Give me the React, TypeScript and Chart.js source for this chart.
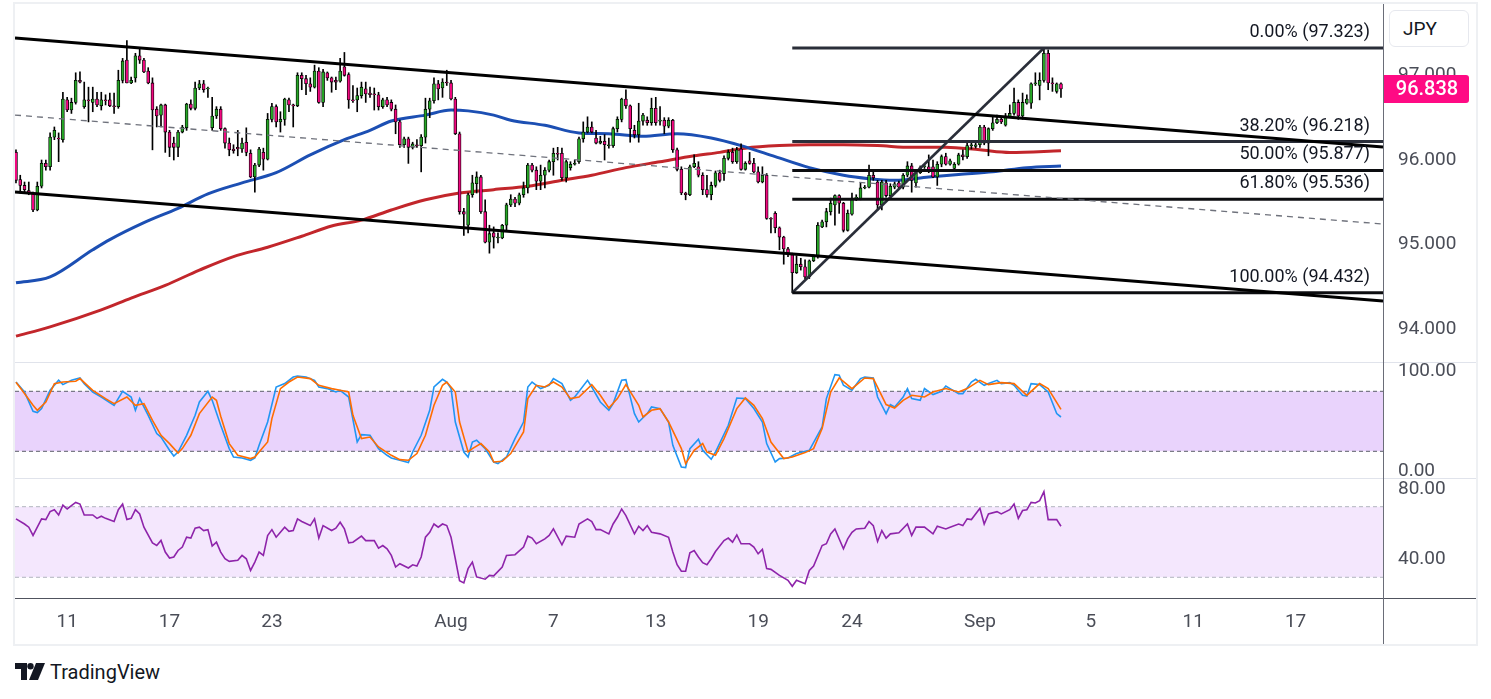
import React, { useEffect, useRef } from "react";
import { Chart, registerables } from "chart.js";

Chart.register(...registerables);
Chart.defaults.font.family = "Roboto, 'DejaVu Sans', sans-serif";

// ---------- price candles (4h bars, index 0 .. 245) ----------
const OPEN = [
  96.09, 95.77, 95.70, 95.64, 95.61, 95.41, 95.69, 95.96, 95.92, 96.27,
  96.26, 96.24, 96.71, 96.59, 96.68, 96.94, 96.63, 96.71, 96.68, 96.72,
  96.64, 96.71, 96.71, 96.64, 96.63, 96.94, 97.18, 96.91, 96.97, 97.23,
  97.18, 97.05, 96.91, 96.60, 96.53, 96.65, 96.33, 96.20, 96.15, 96.33,
  96.38, 96.66, 96.61, 96.85, 96.90, 96.84, 96.38, 96.52, 96.60, 96.37,
  96.20, 96.13, 96.15, 96.13, 96.21, 96.08, 95.80, 95.94, 96.09, 96.01,
  96.48, 96.63, 96.45, 96.48, 96.71, 96.65, 96.64, 97.00, 96.96, 96.90,
  96.86, 97.05, 96.68, 97.03, 96.97, 96.94, 96.93, 97.10, 97.01, 96.71,
  96.71, 96.76, 96.84, 96.79, 96.78, 96.77, 96.63, 96.71, 96.68, 96.60,
  96.45, 96.18, 96.25, 96.15, 96.18, 96.17, 96.27, 96.60, 96.70, 96.90,
  96.85, 96.92, 96.91, 96.72, 96.31, 95.39, 95.23, 95.59, 95.72, 95.80,
  95.39, 95.03, 95.14, 95.08, 95.08, 95.23, 95.47, 95.54, 95.49, 95.59,
  95.67, 95.94, 95.88, 95.75, 95.82, 95.88, 95.98, 96.08, 96.08, 95.79,
  95.91, 95.95, 95.98, 96.25, 96.33, 96.39, 96.26, 96.20, 96.22, 96.17,
  96.17, 96.37, 96.48, 96.72, 96.64, 96.35, 96.30, 96.46, 96.47, 96.44,
  96.61, 96.46, 96.47, 96.40, 96.47, 96.12, 95.89, 95.61, 95.59, 95.92,
  95.92, 95.82, 95.65, 95.59, 95.70, 95.85, 95.84, 96.02, 96.09, 95.98,
  96.13, 95.89, 95.99, 95.96, 95.86, 95.74, 95.82, 95.31, 95.37, 95.20,
  95.09, 94.95, 94.88, 94.67, 94.77, 94.74, 94.62, 94.81, 94.86, 95.21,
  95.27, 95.39, 95.47, 95.58, 95.49, 95.17, 95.36, 95.55, 95.54, 95.67,
  95.68, 95.82, 95.74, 95.47, 95.73, 95.58, 95.68, 95.73, 95.68, 95.82,
  95.93, 95.73, 95.85, 95.92, 95.92, 95.92, 95.80, 95.95, 96.04, 95.95,
  95.90, 95.95, 96.06, 96.04, 96.17, 96.16, 96.18, 96.39, 96.20, 96.37,
  96.44, 96.48, 96.41, 96.51, 96.55, 96.68, 96.52, 96.67, 96.67, 96.90,
  96.88, 96.94, 97.26, 96.91, 96.81, 96.90,
];
const HIGH = [
  96.12, 95.82, 95.74, 95.74, 95.62, 95.74, 96.00, 96.00, 96.32, 96.39,
  96.32, 96.80, 96.74, 96.73, 97.03, 97.04, 96.92, 96.86, 96.86, 96.80,
  96.80, 96.77, 96.79, 96.79, 97.06, 97.20, 97.41, 96.98, 97.26, 97.32,
  97.20, 97.09, 96.97, 96.63, 96.66, 96.66, 96.35, 96.27, 96.35, 96.41,
  96.67, 96.71, 96.92, 96.94, 96.94, 96.86, 96.74, 96.63, 96.63, 96.38,
  96.26, 96.18, 96.35, 96.26, 96.38, 96.12, 95.96, 96.15, 96.14, 96.55,
  96.67, 96.65, 96.57, 96.73, 96.73, 96.66, 97.03, 97.03, 97.00, 96.97,
  97.12, 97.09, 97.07, 97.04, 96.98, 96.98, 97.20, 97.27, 97.03, 96.88,
  96.85, 96.92, 96.92, 96.86, 96.85, 96.80, 96.73, 96.74, 96.71, 96.65,
  96.47, 96.27, 96.27, 96.21, 96.24, 96.30, 96.73, 96.73, 96.97, 96.94,
  96.96, 97.06, 96.94, 96.74, 96.33, 95.43, 95.61, 95.82, 95.86, 95.82,
  95.53, 95.23, 95.21, 95.14, 95.24, 95.49, 95.59, 95.56, 95.61, 95.74,
  95.96, 95.96, 95.92, 95.94, 95.91, 96.00, 96.14, 96.15, 96.14, 96.00,
  95.98, 96.00, 96.27, 96.45, 96.51, 96.45, 96.35, 96.28, 96.30, 96.26,
  96.39, 96.51, 96.73, 96.83, 96.65, 96.41, 96.67, 96.55, 96.51, 96.73,
  96.74, 96.63, 96.50, 96.50, 96.48, 96.14, 95.92, 95.62, 95.94, 96.06,
  95.98, 95.85, 95.82, 95.74, 95.87, 95.88, 96.05, 96.12, 96.14, 96.15,
  96.19, 95.98, 96.09, 96.02, 95.92, 95.92, 95.84, 95.32, 95.39, 95.21,
  95.10, 94.97, 94.90, 94.87, 94.84, 94.82, 94.82, 94.88, 95.26, 95.29,
  95.43, 95.55, 95.59, 95.59, 95.50, 95.41, 95.61, 95.59, 95.73, 95.70,
  95.94, 95.86, 95.76, 95.76, 95.76, 95.72, 95.74, 95.75, 95.84, 95.98,
  95.96, 95.87, 95.93, 95.95, 96.06, 96.00, 95.98, 96.06, 96.08, 96.01,
  95.97, 96.08, 96.12, 96.20, 96.20, 96.20, 96.41, 96.41, 96.38, 96.51,
  96.53, 96.50, 96.55, 96.65, 96.85, 96.71, 96.79, 96.77, 96.91, 97.03,
  97.03, 97.323, 97.30, 96.97, 96.91, 96.91,
];
const LOW = [
  95.73, 95.61, 95.61, 95.59, 95.39, 95.40, 95.67, 95.88, 95.88, 96.24,
  95.98, 96.21, 96.57, 96.55, 96.66, 96.91, 96.61, 96.45, 96.57, 96.63,
  96.59, 96.65, 96.63, 96.55, 96.61, 96.91, 96.91, 96.90, 96.92, 97.14,
  97.03, 96.90, 96.12, 96.39, 96.39, 96.09, 96.04, 96.00, 96.04, 96.32,
  96.35, 96.59, 96.59, 96.83, 96.80, 96.74, 96.35, 96.49, 96.35, 96.14,
  96.05, 96.08, 96.05, 96.09, 96.05, 95.79, 95.62, 95.92, 95.88, 96.00,
  96.45, 96.39, 96.33, 96.41, 96.57, 96.39, 96.63, 96.83, 96.77, 96.81,
  96.85, 96.67, 96.63, 96.94, 96.80, 96.83, 96.92, 96.99, 96.61, 96.68,
  96.57, 96.73, 96.68, 96.74, 96.59, 96.59, 96.61, 96.63, 96.58, 96.31,
  96.15, 96.15, 95.96, 96.13, 96.15, 95.86, 96.20, 96.50, 96.67, 96.71,
  96.74, 96.88, 96.71, 96.30, 95.36, 95.11, 95.14, 95.56, 95.61, 95.37,
  95.02, 94.90, 94.96, 95.02, 95.07, 95.17, 95.45, 95.45, 95.47, 95.56,
  95.61, 95.86, 95.65, 95.65, 95.67, 95.86, 95.82, 96.00, 95.76, 95.74,
  95.88, 95.94, 95.96, 96.21, 96.32, 96.32, 96.19, 96.19, 96.00, 96.14,
  96.15, 96.33, 96.45, 96.61, 96.21, 96.26, 96.21, 96.41, 96.41, 96.41,
  96.41, 96.41, 96.31, 96.38, 96.09, 95.87, 95.59, 95.53, 95.58, 95.91,
  95.80, 95.59, 95.56, 95.53, 95.68, 95.74, 95.76, 96.00, 95.96, 95.96,
  95.88, 95.88, 95.95, 95.85, 95.73, 95.73, 95.30, 95.14, 95.14, 94.94,
  94.77, 94.86, 94.432, 94.66, 94.70, 94.60, 94.60, 94.80, 94.84, 95.20,
  95.21, 95.35, 95.23, 95.37, 95.15, 95.16, 95.35, 95.52, 95.53, 95.66,
  95.67, 95.76, 95.41, 95.41, 95.56, 95.56, 95.66, 95.66, 95.66, 95.80,
  95.62, 95.68, 95.84, 95.90, 95.85, 95.79, 95.70, 95.92, 95.94, 95.94,
  95.88, 95.94, 96.00, 96.02, 96.13, 96.14, 96.15, 96.18, 96.05, 96.35,
  96.43, 96.43, 96.40, 96.50, 96.53, 96.48, 96.48, 96.66, 96.61, 96.88,
  96.71, 96.92, 96.83, 96.81, 96.79, 96.74,
];
const CLOSE = [
  95.76, 95.70, 95.65, 95.61, 95.41, 95.69, 95.96, 95.92, 96.27, 96.35,
  96.25, 96.72, 96.59, 96.68, 96.94, 96.92, 96.71, 96.70, 96.72, 96.65,
  96.71, 96.70, 96.64, 96.63, 96.94, 97.17, 96.91, 96.94, 97.23, 97.18,
  97.04, 96.91, 96.59, 96.52, 96.65, 96.33, 96.15, 96.15, 96.33, 96.39,
  96.66, 96.61, 96.85, 96.90, 96.83, 96.85, 96.52, 96.60, 96.37, 96.20,
  96.12, 96.11, 96.13, 96.20, 96.09, 95.80, 95.94, 96.13, 96.01, 96.48,
  96.63, 96.45, 96.48, 96.72, 96.65, 96.64, 97.00, 96.96, 96.90, 96.86,
  97.05, 96.68, 97.04, 96.97, 96.92, 96.92, 97.05, 97.00, 96.71, 96.70,
  96.76, 96.86, 96.78, 96.77, 96.77, 96.63, 96.71, 96.65, 96.60, 96.45,
  96.18, 96.25, 96.15, 96.19, 96.17, 96.27, 96.60, 96.70, 96.90, 96.84,
  96.92, 96.91, 96.72, 96.31, 95.39, 95.36, 95.59, 95.73, 95.80, 95.39,
  95.03, 95.13, 95.09, 95.09, 95.23, 95.47, 95.54, 95.49, 95.59, 95.67,
  95.94, 95.88, 95.75, 95.82, 95.88, 95.98, 96.08, 96.07, 95.79, 95.98,
  95.95, 95.96, 96.25, 96.33, 96.39, 96.33, 96.20, 96.22, 96.18, 96.18,
  96.37, 96.48, 96.72, 96.64, 96.37, 96.30, 96.46, 96.53, 96.44, 96.61,
  96.44, 96.47, 96.40, 96.47, 96.12, 95.89, 95.61, 95.59, 95.92, 95.96,
  95.82, 95.65, 95.59, 95.70, 95.85, 95.76, 96.02, 96.09, 95.98, 96.12,
  95.89, 95.96, 95.96, 95.86, 95.74, 95.82, 95.31, 95.30, 95.20, 95.09,
  94.95, 94.90, 94.67, 94.77, 94.74, 94.62, 94.81, 94.86, 95.23, 95.27,
  95.39, 95.49, 95.58, 95.49, 95.17, 95.37, 95.55, 95.56, 95.67, 95.68,
  95.82, 95.79, 95.47, 95.74, 95.58, 95.69, 95.72, 95.68, 95.82, 95.93,
  95.76, 95.85, 95.91, 95.93, 95.88, 95.80, 95.95, 96.04, 95.95, 95.99,
  95.95, 96.06, 96.04, 96.17, 96.18, 96.18, 96.39, 96.20, 96.37, 96.44,
  96.48, 96.45, 96.52, 96.55, 96.68, 96.52, 96.68, 96.72, 96.90, 96.91,
  96.94, 97.26, 96.91, 96.90, 96.90, 96.838,
];
const LAST_PRICE = 96.838;
const CURRENCY = "JPY";

// ---------- moving averages [barIndex, value] ----------
const MA_FAST = [
  [0, 94.55], [8, 94.62], [18, 94.94], [22, 95.06], [30, 95.26], [38, 95.43], [45, 95.6],
  [53, 95.73], [61, 95.85], [69, 96.06], [77, 96.24], [83, 96.35], [88, 96.46], [96, 96.53],
  [102, 96.59], [106, 96.58], [112, 96.53], [116, 96.47], [124, 96.41], [132, 96.32],
  [139, 96.31], [147, 96.28], [155, 96.31], [163, 96.26], [170, 96.17], [178, 96.04],
  [186, 95.91], [194, 95.82], [200, 95.78], [206, 95.76], [214, 95.8], [221, 95.83],
  [229, 95.86], [237, 95.91], [245, 95.93],
];
const MA_SLOW = [
  [0, 93.92], [8, 94.03], [20, 94.23], [27, 94.37], [35, 94.52], [43, 94.7], [51, 94.86],
  [59, 94.97], [67, 95.1], [74, 95.22], [81, 95.29], [88, 95.41], [96, 95.53], [104, 95.61],
  [112, 95.65], [120, 95.69], [128, 95.76], [135, 95.82], [143, 95.91], [151, 95.98],
  [159, 96.05], [165, 96.09], [171, 96.14], [179, 96.17], [186, 96.18], [194, 96.18],
  [202, 96.17], [210, 96.15], [218, 96.15], [226, 96.12], [233, 96.09], [245, 96.11],
];

// ---------- drawings ----------
const CHANNEL_UPPER = [[-0.23, 97.44], [320.5, 96.153]];
const CHANNEL_LOWER = [[-0.23, 95.622], [320.5, 94.335]];
const CHANNEL_MID = [[-0.23, 96.531], [320.5, 95.244]];
const FIB_PCT = [0, 38.2, 50, 61.8, 100];
const FIB_LEVEL = [97.323, 96.218, 95.877, 95.536, 94.432];
const FIB_LOW_BAR = 182;
const FIB_HIGH_BAR = 241;

// ---------- stochastic [barIndex, value] ----------
const STOCH_K = [
  [0, 89.3], [2, 79.3], [4, 60], [5, 58.7], [6, 62.7], [8, 81], [10, 91], [11, 86.7], [13, 91],
  [15, 93.3], [16, 87.7], [18, 79.3], [20, 74.3], [23, 66], [25, 80], [27, 74.3], [28, 61],
  [29, 72.7], [31, 56], [33, 37.7], [34, 34.3], [36, 21], [37, 15.3], [38, 19.3], [40, 36],
  [42, 56], [43, 69.3], [45, 80], [46, 71], [48, 46], [50, 22.7], [51, 14.3], [53, 13.3],
  [55, 11], [56, 13.3], [57, 26], [59, 49.3], [61, 84.3], [63, 87.7], [65, 94.3], [66, 95.3],
  [68, 94.3], [70, 91], [71, 84.3], [73, 82.7], [75, 79.3], [76, 81], [78, 74.3], [80, 29.3],
  [81, 36.7], [83, 36], [85, 22.7], [87, 16], [88, 13.3], [90, 11], [92, 8.7], [93, 19.3],
  [95, 36], [97, 61], [98, 84.3], [100, 92], [101, 89.3], [102, 82.7], [103, 49.3], [105, 19.3],
  [106, 14.3], [107, 29.3], [108, 31], [110, 22.7], [112, 9.3], [113, 7.7], [115, 14.3],
  [117, 32.7], [119, 49.3], [120, 84.3], [121, 89.3], [123, 82.7], [125, 86], [126, 92.7],
  [128, 87.7], [130, 71], [131, 74.3], [134, 91], [135, 84.3], [137, 69.3], [139, 61],
  [140, 67.7], [142, 91], [143, 91.7], [145, 57.7], [146, 49.3], [148, 57.7], [149, 64.3],
  [151, 62.7], [153, 49.3], [154, 26], [156, 4.3], [157, 3.7], [158, 22.7], [160, 32],
  [161, 21], [163, 12], [164, 19.3], [167, 46], [169, 73.3], [171, 72.7], [173, 62.7],
  [175, 49.3], [176, 27.7], [178, 9.3], [179, 12.7], [181, 13.3], [183, 17.7], [186, 21],
  [189, 44.3], [190, 72.7], [192, 96.7], [193, 96], [194, 86], [196, 81], [198, 92.7],
  [199, 94.3], [201, 93.3], [202, 74.3], [204, 57.7], [205, 66.7], [206, 64.3], [208, 74.3],
  [209, 82.7], [210, 72.7], [212, 71], [213, 82.7], [215, 76.7], [217, 80], [218, 85.3],
  [219, 82.7], [221, 77.7], [222, 77.7], [224, 89.3], [225, 92], [227, 86], [228, 87.7],
  [230, 91], [231, 87.7], [233, 88.7], [234, 86], [236, 76], [237, 75.3], [238, 87.7],
  [240, 86.7], [242, 79.3], [244, 57.7], [245, 54.3],
];
const STOCH_D = [
  [0, 89], [2, 77.7], [4, 66], [5, 61], [7, 69.3], [9, 87.7], [11, 89.3], [14, 90], [15, 92.7],
  [18, 81], [21, 72.7], [23, 67.7], [26, 74.3], [28, 66], [30, 67.7], [32, 51], [34, 36],
  [36, 27.7], [38, 18.3], [39, 22.7], [41, 36], [43, 57.7], [46, 74.3], [47, 71], [48, 55],
  [50, 27.7], [52, 16], [55, 12.7], [56, 14.3], [59, 29.3], [60, 52.7], [62, 82.7], [64, 89.3],
  [66, 94.3], [69, 92.7], [71, 86], [74, 82.7], [76, 81], [78, 79.3], [79, 56], [81, 32.7],
  [83, 34.3], [85, 24.3], [88, 16], [90, 11.7], [92, 11], [94, 17.7], [96, 36], [98, 66],
  [100, 86], [101, 89.3], [103, 79.3], [104, 49.3], [106, 19.3], [107, 22.7], [109, 27.7],
  [111, 19.3], [112, 9.3], [114, 10], [116, 17.7], [119, 39.3], [120, 72.7], [122, 86],
  [124, 84.3], [126, 89.3], [128, 84.3], [130, 72.7], [132, 74.3], [135, 86.7], [137, 76],
  [139, 63.3], [141, 72.7], [143, 86.7], [146, 66], [147, 54.3], [149, 61], [151, 62.7],
  [153, 49.3], [156, 22.7], [157, 7.7], [159, 21], [161, 27.7], [162, 19.3], [164, 16],
  [166, 32.7], [169, 62.7], [171, 73.3], [173, 66], [175, 52.7], [177, 29.3], [180, 12.7],
  [182, 14.3], [185, 18.7], [187, 22.7], [189, 42.7], [191, 79.3], [193, 93.3], [196, 82.7],
  [199, 93.3], [201, 92.7], [204, 66.7], [206, 63.3], [208, 71], [210, 76], [213, 74.3],
  [215, 79.3], [218, 82.7], [221, 79.3], [223, 82.7], [226, 91], [228, 86.7], [231, 88.7],
  [234, 87.7], [237, 76], [240, 87.7], [242, 82.7], [245, 62],
];
const STOCH_BAND = [80, 20];

// ---------- RSI [barIndex, value] ----------
const RSI = [
  [0, 63.1], [2, 60.2], [3, 58.4], [4, 53.7], [5, 58.4], [6, 63.1], [7, 62.7], [8, 67.2],
  [9, 68.3], [10, 65.3], [11, 70.9], [12, 68.7], [13, 70.6], [14, 72.4], [15, 71.5], [16, 65.3],
  [18, 65.3], [19, 63.4], [20, 64.6], [21, 63.4], [23, 61.6], [24, 68.3], [25, 71.5], [26, 62.7],
  [27, 63.4], [28, 68.3], [29, 65.9], [30, 58.4], [32, 49.5], [33, 48], [34, 50.9], [35, 44.3],
  [36, 40.9], [37, 41.5], [38, 45.2], [39, 47.1], [40, 52.7], [41, 52.2], [42, 57.8], [43, 58.4],
  [44, 56.5], [45, 57], [46, 47.7], [47, 49.9], [48, 44.3], [49, 40.5], [50, 39], [52, 39.6],
  [53, 42.4], [54, 40.5], [55, 33.9], [56, 38.6], [57, 44.3], [58, 42.4], [59, 53.7], [60, 57],
  [61, 52.7], [63, 58.4], [64, 56], [65, 56.5], [66, 63.1], [67, 61.6], [69, 59.3], [70, 63.1],
  [71, 52.2], [72, 59.3], [74, 56.5], [75, 57.8], [76, 61.2], [77, 57.4], [78, 49.5], [79, 49.9],
  [81, 53.3], [82, 50.8], [84, 50.8], [85, 46.5], [86, 48], [87, 46.1], [88, 42.4], [89, 35.8],
  [90, 37.7], [92, 35.3], [93, 37.1], [94, 36.4], [95, 41.5], [96, 52.7], [97, 55.5], [98, 60.2],
  [99, 58.4], [100, 60.2], [101, 59.3], [102, 52.7], [103, 40.5], [104, 28], [105, 26.8],
  [106, 34.9], [107, 38.6], [108, 30.2], [110, 28.9], [111, 31.1], [112, 30.8], [114, 35.8],
  [115, 42.4], [117, 42.8], [119, 47.1], [120, 53.3], [121, 52.2], [122, 49], [124, 51.8],
  [125, 53.7], [126, 57.4], [128, 48.4], [129, 53.3], [131, 52.7], [132, 60.2], [134, 63.1],
  [135, 61.6], [136, 57], [137, 57], [139, 54.6], [140, 60.2], [141, 64], [142, 68.7],
  [143, 64.9], [145, 54.6], [146, 58.9], [147, 56.5], [148, 59.3], [149, 55.5], [151, 54.6],
  [153, 52.7], [154, 44.3], [155, 37.1], [156, 33.4], [157, 33.4], [158, 43.9], [159, 45.2],
  [160, 41.5], [161, 38.3], [162, 37.1], [163, 40.5], [164, 44.6], [166, 50.8], [167, 52.2],
  [168, 49.9], [169, 54], [170, 49], [172, 49], [173, 47.1], [174, 43.3], [175, 45.8],
  [176, 34.9], [177, 34.5], [179, 31.1], [181, 28.3], [182, 24.9], [183, 28.3], [185, 26.4],
  [186, 33.9], [187, 36.4], [189, 48], [190, 49], [191, 54.6], [192, 57.4], [194, 46.2],
  [195, 51.8], [196, 55.5], [197, 57.4], [199, 57.8], [200, 61.6], [201, 59.3], [202, 50.3],
  [203, 56.5], [204, 52.2], [205, 54.6], [207, 55.2], [209, 60.2], [210, 53.7], [211, 58.4],
  [213, 58.4], [215, 54.6], [216, 58.9], [218, 57.4], [219, 58.4], [221, 60.2], [222, 59.3],
  [223, 63.1], [224, 62.7], [226, 69.1], [227, 60.2], [228, 65.9], [230, 67.2], [231, 65.9],
  [233, 68.3], [234, 71.5], [235, 63.4], [236, 67.8], [237, 68.3], [238, 72.4], [239, 72.1],
  [240, 73.4], [241, 78.5], [242, 62.7], [244, 62.7], [245, 58.9],
];
const RSI_BAND = [70, 30];

// ---------- axes ----------
const X_MIN = -0.23;
const X_MAX = 320.5;
const X_TICK_POS = [12, 36, 60, 102, 126, 150, 174, 196, 226, 252, 276, 300];
const X_TICK_LABELS = ["11", "17", "23", "Aug", "7", "13", "19", "24", "Sep", "5", "11", "17"];
const PRICE_RANGE = [93.615, 97.842];
const PRICE_TICKS = [94, 95, 96, 97];
const STOCH_RANGE = [-6.7, 108.3];
const STOCH_TICKS = [0, 100];
const RSI_RANGE = [18.27, 85.69];
const RSI_TICKS = [40, 80];

// ---------- styling ----------
const UP = "#26a626";
const DOWN = "#f0087f";
const AXIS_TEXT = "#4a4d57";
const INK = "#131722";

const pts = (pairs) => pairs.map(([x, y]) => ({ x, y }));

const noScalePadding = (sc) => {
  sc.paddingTop = 0;
  sc.paddingBottom = 0;
  sc.paddingLeft = 0;
  sc.paddingRight = 0;
};

function xScale(display) {
  const s: any = {
    type: "linear",
    min: X_MIN,
    max: X_MAX,
    offset: false,
    display,
    grid: { display: false, drawTicks: false },
    border: { display: false },
    afterFit: (sc) => {
      noScalePadding(sc);
      if (display) sc.height = 46;
    },
  };
  if (display) {
    s.afterBuildTicks = (sc) => {
      sc.ticks = X_TICK_POS.map((v) => ({ value: v }));
    };
    s.ticks = {
      autoSkip: false,
      maxRotation: 0,
      minRotation: 0,
      padding: 13,
      color: AXIS_TEXT,
      font: { size: 19 },
      callback: (_v, i) => X_TICK_LABELS[i],
    };
  }
  return s;
}

function yScale(range, ticks, decimals) {
  return {
    type: "linear",
    position: "right",
    min: range[0],
    max: range[1],
    grid: { display: false, drawTicks: false },
    border: { display: false },
    afterBuildTicks: (sc) => {
      sc.ticks = ticks.map((v) => ({ value: v }));
    },
    afterFit: (sc) => {
      noScalePadding(sc);
      sc.width = 93;
    },
    ticks: {
      autoSkip: false,
      padding: 15,
      color: AXIS_TEXT,
      font: { size: 19 },
      callback: (v) => Number(v).toFixed(decimals),
    },
  };
}

const baseOptions = {
  responsive: true,
  maintainAspectRatio: false,
  animation: false,
  events: [],
  plugins: { legend: { display: false }, tooltip: { enabled: false } },
};

const seg = (data, color, width, order, extra = {}) => ({
  type: "line",
  data,
  borderColor: color,
  borderWidth: width,
  pointRadius: 0,
  fill: false,
  order,
  ...extra,
});

const priceOverlay = {
  id: "priceOverlay",
  afterDatasetsDraw(chart) {
    const { ctx, chartArea, scales } = chart;
    const y = scales.y;
    ctx.save();
    ctx.font = "18px Roboto, 'DejaVu Sans', sans-serif";
    ctx.fillStyle = INK;
    ctx.textAlign = "right";
    ctx.textBaseline = "alphabetic";
    FIB_LEVEL.forEach((lv, i) => {
      ctx.fillText(
        `${FIB_PCT[i].toFixed(2)}% (${lv.toFixed(3)})`,
        chartArea.right - 13,
        y.getPixelForValue(lv) - 11
      );
    });
    ctx.restore();
  },
  afterDraw(chart) {
    const { ctx, chartArea, scales } = chart;
    const yy = scales.y.getPixelForValue(LAST_PRICE);
    const left = chartArea.right;
    const w = 86;
    const h = 28;
    ctx.save();
    ctx.fillStyle = "#ff0a84";
    ctx.beginPath();
    ctx.roundRect(left, yy - h / 2, w, h, [0, 3, 3, 0]);
    ctx.fill();
    ctx.fillStyle = "#ffffff";
    ctx.font = "500 20px Roboto, 'DejaVu Sans', sans-serif";
    ctx.textAlign = "center";
    ctx.textBaseline = "middle";
    ctx.fillText(LAST_PRICE.toFixed(3), left + w / 2 + 1, yy + 1);
    ctx.restore();
  },
};

function priceConfig() {
  const idx = OPEN.map((_, i) => i);
  const fibLines = FIB_LEVEL.map((lv, i) =>
    seg(
      [
        { x: FIB_LOW_BAR, y: lv },
        { x: X_MAX, y: lv },
      ],
      i < 2 ? "#2a2e39" : "#0c0d10",
      3,
      0
    )
  );
  return {
    type: "bar",
    data: {
      datasets: [
        seg(pts(CHANNEL_UPPER), "#000000", 3, 0),
        seg(pts(CHANNEL_LOWER), "#000000", 3, 0),
        seg(pts(CHANNEL_MID), "#6f727c", 1.3, 0, { borderDash: [6, 5] }),
        ...fibLines,
        seg(
          [
            { x: FIB_LOW_BAR, y: FIB_LEVEL[4] },
            { x: FIB_HIGH_BAR, y: FIB_LEVEL[0] },
          ],
          "#2a2e39",
          2.6,
          0
        ),
        {
          type: "bar",
          data: idx.map((i) => ({ x: i, y: [OPEN[i], CLOSE[i]] })),
          backgroundColor: idx.map((i) => (CLOSE[i] >= OPEN[i] ? UP : DOWN)),
          borderColor: "#000000",
          borderWidth: 0.8,
          borderSkipped: false,
          barThickness: 3,
          grouped: false,
          order: 1,
        },
        {
          type: "bar",
          data: idx.map((i) => ({ x: i, y: [LOW[i], HIGH[i]] })),
          backgroundColor: "#000000",
          barThickness: 1,
          grouped: false,
          order: 2,
        },
        seg(pts(MA_FAST), "#1c4fb3", 3, 3, { cubicInterpolationMode: "monotone" }),
        seg(pts(MA_SLOW), "#c2262b", 3, 3, { cubicInterpolationMode: "monotone" }),
      ],
    },
    options: {
      ...baseOptions,
      layout: { padding: 0, autoPadding: false },
      scales: {
        x: xScale(false),
        y: yScale(PRICE_RANGE, PRICE_TICKS, 3),
      },
    },
    plugins: [priceOverlay],
  };
}

function oscConfig(kind) {
  const isStoch = kind === "stoch";
  const band = isStoch ? STOCH_BAND : RSI_BAND;
  const lineCol = isStoch ? "#5d606b" : "#b2b5be";
  const fillCol = isStoch ? "#e9d3fc" : "#f4e7fd";
  const datasets: any[] = [
    seg(
      [
        { x: X_MIN, y: band[0] },
        { x: X_MAX, y: band[0] },
      ],
      lineCol,
      1,
      3,
      { borderDash: [4, 3], fill: { value: band[1] }, backgroundColor: fillCol }
    ),
    seg(
      [
        { x: X_MIN, y: band[1] },
        { x: X_MAX, y: band[1] },
      ],
      lineCol,
      1,
      2,
      { borderDash: [4, 3] }
    ),
  ];
  if (isStoch) {
    datasets.push(seg(pts(STOCH_K), "#2196f3", 1.6, 1));
    datasets.push(seg(pts(STOCH_D), "#ff6d00", 1.6, 0));
  } else {
    datasets.push(seg(pts(RSI), "#8e24aa", 1.6, 0));
  }
  return {
    type: "line",
    data: { datasets },
    options: {
      ...baseOptions,
      layout: { padding: isStoch ? { bottom: 12 } : 0, autoPadding: false },
      scales: {
        x: xScale(!isStoch),
        y: isStoch ? yScale(STOCH_RANGE, STOCH_TICKS, 2) : yScale(RSI_RANGE, RSI_TICKS, 2),
      },
    },
  };
}

const abs = (left, top, width, height, extra = {}) => ({
  position: "absolute" as const,
  left,
  top,
  width,
  height,
  ...extra,
});

export default function App() {
  const priceRef = useRef<HTMLCanvasElement>(null);
  const stochRef = useRef<HTMLCanvasElement>(null);
  const rsiRef = useRef<HTMLCanvasElement>(null);

  useEffect(() => {
    const charts = [
      new Chart(priceRef.current as any, priceConfig() as any),
      new Chart(stochRef.current as any, oscConfig("stoch") as any),
      new Chart(rsiRef.current as any, oscConfig("rsi") as any),
    ];
    return () => charts.forEach((c) => c.destroy());
  }, []);

  return (
    <div
      style={abs(0, 0, 1491, 699, {
        background: "#ffffff",
        overflow: "hidden",
        fontFamily: "Roboto, 'DejaVu Sans', sans-serif",
      })}
    >
      <div style={abs(13, 2, 1465, 644, { border: "2px solid #eef0f3", boxSizing: "border-box" })} />
      <div style={abs(15, 4, 1461, 358)}>
        <canvas ref={priceRef} />
      </div>
      <div style={abs(15, 363, 1461, 127)}>
        <canvas ref={stochRef} />
      </div>
      <div style={abs(15, 479, 1461, 165)}>
        <canvas ref={rsiRef} />
      </div>
      <div style={abs(15, 362, 1461, 1, { background: "#e0e3eb" })} />
      <div style={abs(15, 478, 1461, 1, { background: "#e0e3eb" })} />
      <div style={abs(15, 598, 1461, 1, { background: "#50535e" })} />
      <div style={abs(1383, 4, 1, 640, { background: "#6a6d78" })} />
      <div
        style={abs(1389, 10, 80, 37, {
          border: "1px solid #e6e8ee",
          borderRadius: 6,
          boxSizing: "border-box",
          background: "#ffffff",
          color: INK,
          fontSize: 19,
          lineHeight: "35px",
          paddingLeft: 13,
        })}
      >
        {CURRENCY}
      </div>
      <svg width="30" height="17" viewBox="0 0 30 17" style={abs(15, 663, 30, 17)}>
        <path d="M0 0H12V17H6V6H0Z" fill={INK} />
        <circle cx="15.5" cy="3.2" r="3.2" fill={INK} />
        <path d="M21 0H30L23 17H14Z" fill={INK} />
      </svg>
      <div style={abs(50, 659, 140, 26, { fontSize: 20, fontWeight: 400, color: INK, lineHeight: "26px" })}>
        TradingView
      </div>
    </div>
  );
}
